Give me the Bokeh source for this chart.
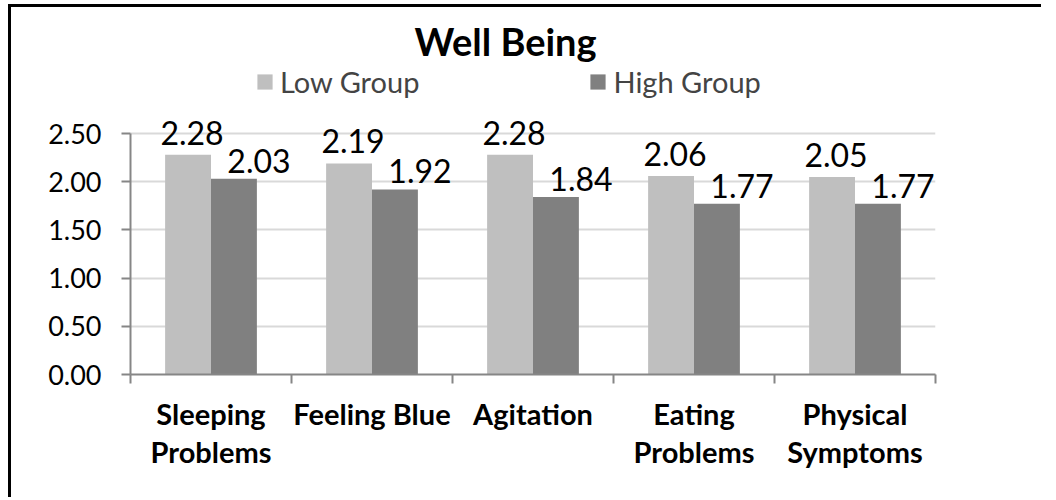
import numpy as np
from bokeh.plotting import figure
from bokeh.layouts import column
from bokeh.models import (ColumnDataSource, FixedTicker, Legend, LegendItem, Label,
                          PrintfTickFormatter, Range1d)
from bokeh.core.properties import value
from bokeh.transform import dodge
from bokeh.embed import file_html
from bokeh.resources import INLINE

categories = ["Sleeping\nProblems", "Feeling Blue", "Agitation", "Eating\nProblems", "Physical\nSymptoms"]
low_group = [2.28, 2.19, 2.28, 2.06, 2.05]
high_group = [2.03, 1.92, 1.84, 1.77, 1.77]
y_ticks = [0.0, 0.5, 1.0, 1.5, 2.0, 2.5]
title_text = "Well Being"
series_names = ["Low Group", "High Group"]

FONT = "Lato"
LOW_C = "#BFBFBF"
HIGH_C = "#808080"
AXIS_C = "#868686"

pos = list(range(1, len(categories) + 1))
src = ColumnDataSource(dict(
    x=pos,
    low=low_group,
    high=high_group,
    low_txt=["%.2f" % v for v in low_group],
    high_txt=["%.2f" % v for v in high_group],
))

# frame extends above the 2.50 line so title/legend are drawn inside it
p = figure(width=1030, height=490, output_backend="svg", toolbar_location=None,
           x_range=Range1d(0.5, len(categories) + 0.5), y_range=Range1d(0, 3.6722),
           min_border_left=119, min_border_right=106, min_border_top=13, min_border_bottom=123)
p.outline_line_color = None
p.background_fill_color = "white"
p.border_fill_color = "white"

bw = 0.285
r_low = p.vbar(x=dodge("x", -bw / 2, range=p.x_range), top="low", width=bw, source=src,
               fill_color=LOW_C, line_color=None)
r_high = p.vbar(x=dodge("x", bw / 2, range=p.x_range), top="high", width=bw, source=src,
                fill_color=HIGH_C, line_color=None)

p.text(x=dodge("x", -bw / 2, range=p.x_range), y="low", text="low_txt", source=src,
       text_font=value(FONT), text_font_size="32px", text_align="center", text_baseline="alphabetic",
       x_offset=4, y_offset=-22, text_color="black")
p.text(x=dodge("x", bw / 2, range=p.x_range), y="high", text="high_txt", source=src,
       text_font=value(FONT), text_font_size="32px", text_align="center", text_baseline="alphabetic",
       x_offset=25, y_offset=-18, text_color="black")

# x axis
xa = p.xaxis[0]
xa.ticker = FixedTicker(ticks=pos, minor_ticks=[i + 0.5 for i in range(len(categories) + 1)])
xa.major_label_overrides = {i: c for i, c in zip(pos, categories)}
xa.major_tick_line_color = None
xa.major_tick_out = 0
xa.major_tick_in = 0
xa.minor_tick_line_color = AXIS_C
xa.minor_tick_line_width = 2
xa.minor_tick_out = 9
xa.minor_tick_in = 0
xa.axis_line_color = AXIS_C
xa.axis_line_width = 2
xa.major_label_text_font = FONT
xa.major_label_text_font_style = "bold"
xa.major_label_text_font_size = "29px"
xa.major_label_text_color = "black"
xa.major_label_text_line_height = 1.1
xa.major_label_standoff = 12

# y axis
ya = p.yaxis[0]
ya.ticker = FixedTicker(ticks=y_ticks)
ya.formatter = PrintfTickFormatter(format="%.2f")
ya.bounds = (0, 2.5)
ya.axis_line_color = AXIS_C
ya.axis_line_width = 2
ya.major_tick_line_color = AXIS_C
ya.major_tick_line_width = 2
ya.major_tick_out = 9
ya.major_tick_in = 0
ya.minor_tick_line_color = None
ya.major_label_text_font = FONT
ya.major_label_text_font_size = "27px"
ya.major_label_text_color = "black"
ya.major_label_standoff = 20

p.xgrid.grid_line_color = None
p.ygrid.grid_line_color = "#D9D9D9"
p.ygrid.grid_line_width = 2

legend = Legend(items=[LegendItem(label=series_names[0], renderers=[r_low]),
                       LegendItem(label=series_names[1], renderers=[r_high])],
                orientation="horizontal", location=(125, 275),
                label_text_font=FONT, label_text_font_size="29px",
                glyph_width=19, glyph_height=19, label_standoff=6, spacing=169,
                padding=0, margin=0, border_line_color=None, background_fill_alpha=0)
p.add_layout(legend)

title = Label(x=375, y=334, x_units="screen", y_units="screen", text=title_text,
              text_font=FONT, text_font_style="bold", text_font_size="38px",
              text_align="center", text_baseline="alphabetic", text_color="black")
p.add_layout(title)

root = column(p, styles={"border-left": "3px solid black", "border-top": "3px solid black",
                         "margin-left": "8px", "margin-top": "4px"})

open("out.html", "w").write(file_html(root, INLINE))
